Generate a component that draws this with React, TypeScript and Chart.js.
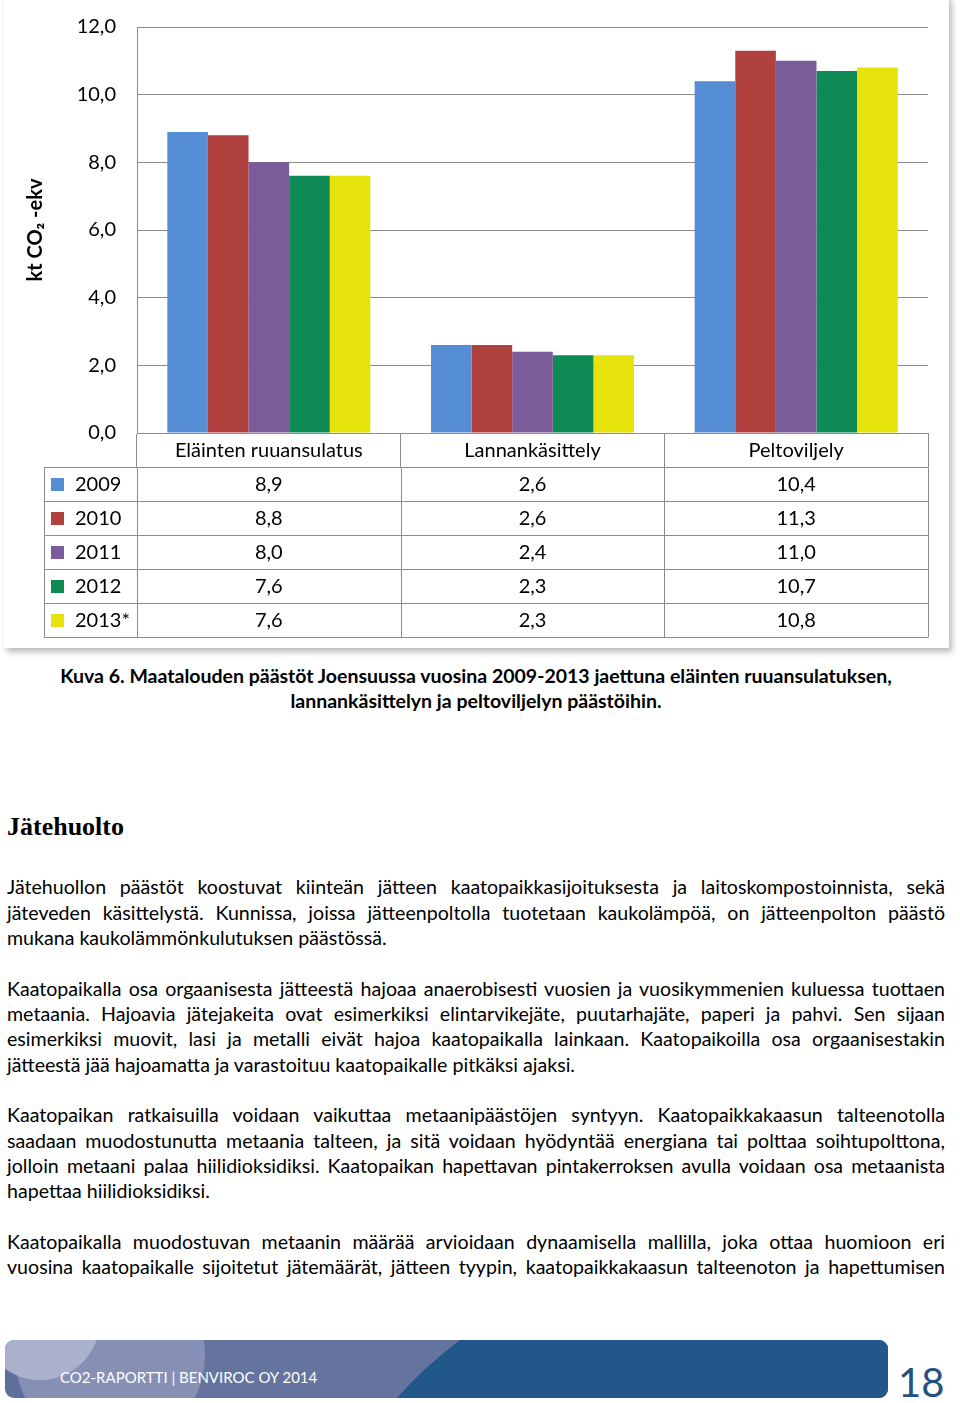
import React, { useEffect, useRef } from "react";
import { Chart, registerables } from "chart.js";

Chart.register(...registerables);

const categories = ["Eläinten ruuansulatus", "Lannankäsittely", "Peltoviljely"];
const years = ["2009", "2010", "2011", "2012", "2013*"];
const values2009 = [8.9, 2.6, 10.4];
const values2010 = [8.8, 2.6, 11.3];
const values2011 = [8.0, 2.4, 11.0];
const values2012 = [7.6, 2.3, 10.7];
const values2013 = [7.6, 2.3, 10.8];
const seriesValues = [values2009, values2010, values2011, values2012, values2013];
const seriesColors = ["#558ed5", "#b1413e", "#7a5c9b", "#0e8a55", "#e6e20b"];
const yMin = 0;
const yMax = 12;
const yStep = 2;
const yTitle = "kt CO₂ -ekv";

const caption = [
  "Kuva 6. Maatalouden päästöt Joensuussa vuosina 2009-2013 jaettuna eläinten ruuansulatuksen,",
  "lannankäsittelyn ja peltoviljelyn päästöihin.",
];
const heading = "Jätehuolto";
const paragraphs: { text: string; last: boolean }[][] = [
  [
    { text: "Jätehuollon päästöt koostuvat kiinteän jätteen kaatopaikkasijoituksesta ja laitoskompostoinnista, sekä", last: false },
    { text: "jäteveden käsittelystä. Kunnissa, joissa jätteenpoltolla tuotetaan kaukolämpöä, on jätteenpolton päästö", last: false },
    { text: "mukana kaukolämmönkulutuksen päästössä.", last: true },
  ],
  [
    { text: "Kaatopaikalla osa orgaanisesta jätteestä hajoaa anaerobisesti vuosien ja vuosikymmenien kuluessa tuottaen", last: false },
    { text: "metaania. Hajoavia jätejakeita ovat esimerkiksi elintarvikejäte, puutarhajäte, paperi ja pahvi. Sen sijaan", last: false },
    { text: "esimerkiksi muovit, lasi ja metalli eivät hajoa kaatopaikalla lainkaan. Kaatopaikoilla osa orgaanisestakin", last: false },
    { text: "jätteestä jää hajoamatta ja varastoituu kaatopaikalle pitkäksi ajaksi.", last: true },
  ],
  [
    { text: "Kaatopaikan ratkaisuilla voidaan vaikuttaa metaanipäästöjen syntyyn. Kaatopaikkakaasun talteenotolla", last: false },
    { text: "saadaan muodostunutta metaania talteen, ja sitä voidaan hyödyntää energiana tai polttaa soihtupolttona,", last: false },
    { text: "jolloin metaani palaa hiilidioksidiksi. Kaatopaikan hapettavan pintakerroksen avulla voidaan osa metaanista", last: false },
    { text: "hapettaa hiilidioksidiksi.", last: true },
  ],
  [
    { text: "Kaatopaikalla muodostuvan metaanin määrää arvioidaan dynaamisella mallilla, joka ottaa huomioon eri", last: false },
    { text: "vuosina kaatopaikalle sijoitetut jätemäärät, jätteen tyypin, kaatopaikkakaasun talteenoton ja hapettumisen", last: false },
  ],
];
const footerText = "CO2-RAPORTTI | BENVIROC OY 2014";
const pageNumber = "18";

const FONT = "Lato, 'Open Sans', sans-serif";
const GRID = "#8c8c8c";
const ROW_H = 34;

const fmt = (v: number) => v.toFixed(1).replace(".", ",");

const tablePlugin = {
  id: "dataTable",
  afterDraw(chart: any) {
    const ctx = chart.ctx as CanvasRenderingContext2D;
    const xs = chart.scales.x;
    const top = chart.chartArea.bottom + ROW_H;
    const left = 44;
    const bounds: number[] = [xs.left];
    for (let i = 0; i < categories.length - 1; i++) {
      bounds.push((xs.getPixelForValue(i) + xs.getPixelForValue(i + 1)) / 2);
    }
    bounds.push(xs.right);
    ctx.save();
    ctx.strokeStyle = GRID;
    ctx.lineWidth = 1;
    ctx.beginPath();
    for (let r = 0; r <= years.length; r++) {
      const y = Math.round(top + r * ROW_H) + 0.5;
      ctx.moveTo(left, y);
      ctx.lineTo(xs.right, y);
    }
    const bottom = top + years.length * ROW_H;
    [left, ...bounds].forEach((bx) => {
      const x = Math.round(bx) + 0.5;
      ctx.moveTo(x, Math.round(top) + 0.5);
      ctx.lineTo(x, Math.round(bottom) + 0.5);
    });
    ctx.stroke();
    ctx.font = `20px ${FONT}`;
    ctx.fillStyle = "#000";
    ctx.textBaseline = "middle";
    years.forEach((yr, r) => {
      const cy = top + r * ROW_H + ROW_H / 2 + 1;
      ctx.fillStyle = seriesColors[r];
      ctx.fillRect(51, Math.round(cy - 7), 13, 13);
      ctx.fillStyle = "#000";
      ctx.textAlign = "left";
      ctx.fillText(yr, 75, cy);
      ctx.textAlign = "center";
      seriesValues[r].forEach((v, c) => {
        ctx.fillText(fmt(v), xs.getPixelForValue(c), cy);
      });
    });
    ctx.restore();
  },
};

function ChartBox() {
  const ref = useRef<HTMLCanvasElement | null>(null);
  useEffect(() => {
    if (!ref.current) return;
    const chart = new Chart(ref.current, {
      type: "bar",
      data: {
        labels: categories,
        datasets: years.map((yr, i) => ({
          label: yr,
          data: seriesValues[i],
          backgroundColor: seriesColors[i],
          borderWidth: 0,
          categoryPercentage: 0.77,
          barPercentage: 1.0,
        })),
      },
      options: {
        animation: false,
        responsive: false,
        devicePixelRatio: 1,
        layout: { padding: { top: 27, right: 17, bottom: 11, left: 0 } },
        plugins: {
          legend: { display: false },
          tooltip: { enabled: false },
          title: { display: false },
        },
        scales: {
          x: {
            grid: {
              display: true,
              drawOnChartArea: false,
              drawTicks: true,
              tickLength: ROW_H,
              color: GRID,
              offset: true,
            },
            border: { display: true, color: GRID },
            ticks: {
              color: "#000",
              font: { family: FONT, size: 20 },
              padding: -28,
              maxRotation: 0,
              autoSkip: false,
            },
            afterFit: (scale: any) => {
              scale.height = ROW_H + ROW_H * years.length;
            },
          },
          y: {
            min: yMin,
            max: yMax,
            grid: { color: GRID, drawTicks: false },
            border: { display: true, color: GRID },
            ticks: {
              stepSize: yStep,
              color: "#000",
              padding: 21,
              font: { family: FONT, size: 20 },
              callback: (v: any) => fmt(Number(v)),
            },
            title: {
              display: true,
              text: yTitle,
              color: "#000",
              font: { family: FONT, size: 20, weight: "bold" },
              padding: { top: 24, bottom: 0 },
            },
            afterFit: (scale: any) => {
              scale.width = 137;
              scale.paddingTop = 0;
              scale.paddingBottom = 0;
            },
          },
        },
      },
      plugins: [tablePlugin],
    });
    return () => chart.destroy();
  }, []);
  return (
    <canvas
      ref={ref}
      width={945}
      height={648}
      style={{ position: "absolute", left: 0, top: 0, width: 945, height: 648 }}
    />
  );
}

export default function App() {
  const lineH = 25.33;
  const lines: { text: string; last: boolean; blank: boolean }[] = [];
  paragraphs.forEach((p, i) => {
    if (i > 0) lines.push({ text: "", last: true, blank: true });
    p.forEach((l) => lines.push({ ...l, blank: false }));
  });
  return (
    <div
      style={{
        position: "absolute",
        left: 0,
        top: 0,
        width: 960,
        height: 1403,
        background: "#fff",
        overflow: "hidden",
        fontFamily: FONT,
        color: "#000",
      }}
    >
      <div
        style={{
          position: "absolute",
          left: 4,
          top: -4,
          width: 945,
          height: 652,
          background: "#fff",
          boxShadow: "3px 4px 6px rgba(0,0,0,0.28)",
        }}
      />
      <ChartBox />
      <div
        style={{
          position: "absolute",
          left: 0,
          top: 663,
          width: 952,
          textAlign: "center",
          fontWeight: 700,
          fontSize: 19.5,
          lineHeight: "25px",
          whiteSpace: "nowrap",
        }}
      >
        {caption.map((c, i) => (
          <div key={i}>{c}</div>
        ))}
      </div>
      <div
        style={{
          position: "absolute",
          left: 7,
          top: 812,
          fontFamily: "'Liberation Serif', 'Times New Roman', serif",
          fontWeight: 700,
          fontSize: 26,
          lineHeight: "30px",
        }}
      >
        {heading}
      </div>
      <div style={{ position: "absolute", left: 7, top: 874.3, width: 938, fontSize: 19.6 }}>
        {lines.map((l, i) => (
          <div
            key={i}
            style={{
              height: lineH,
              lineHeight: `${lineH}px`,
              whiteSpace: "nowrap",
              textAlign: l.last ? "left" : "justify",
              textAlignLast: l.last ? "left" : "justify",
            } as any}
          >
            {l.blank ? "\u00a0" : l.text}
          </div>
        ))}
      </div>
      <svg
        width={883}
        height={58}
        style={{ position: "absolute", left: 5, top: 1340 }}
      >
        <defs>
          <clipPath id="footClip">
            <rect x={0} y={0} width={883} height={58} rx={9} ry={9} />
          </clipPath>
        </defs>
        <g clipPath="url(#footClip)">
          <rect x={0} y={0} width={883} height={58} fill="#5f6f9c" />
          <rect x={100} y={0} width={783} height={58} fill="#65749e" />
          <circle cx={105} cy={15} r={95} fill="#8690b5" />
          <circle cx={35} cy={-20} r={60} fill="#a9b1cd" />
          <path d="M455 0 Q418 28 392 58 L883 58 L883 0 Z" fill="#22578a" />
        </g>
        <text
          x={55}
          y={43}
          fill="#fff"
          style={{ fontFamily: FONT, fontSize: 15 }}
        >
          {footerText}
        </text>
      </svg>
      <div
        style={{
          position: "absolute",
          left: 898,
          top: 1360,
          fontSize: 40,
          lineHeight: "44px",
          color: "#25517f",
        }}
      >
        {pageNumber}
      </div>
    </div>
  );
}
